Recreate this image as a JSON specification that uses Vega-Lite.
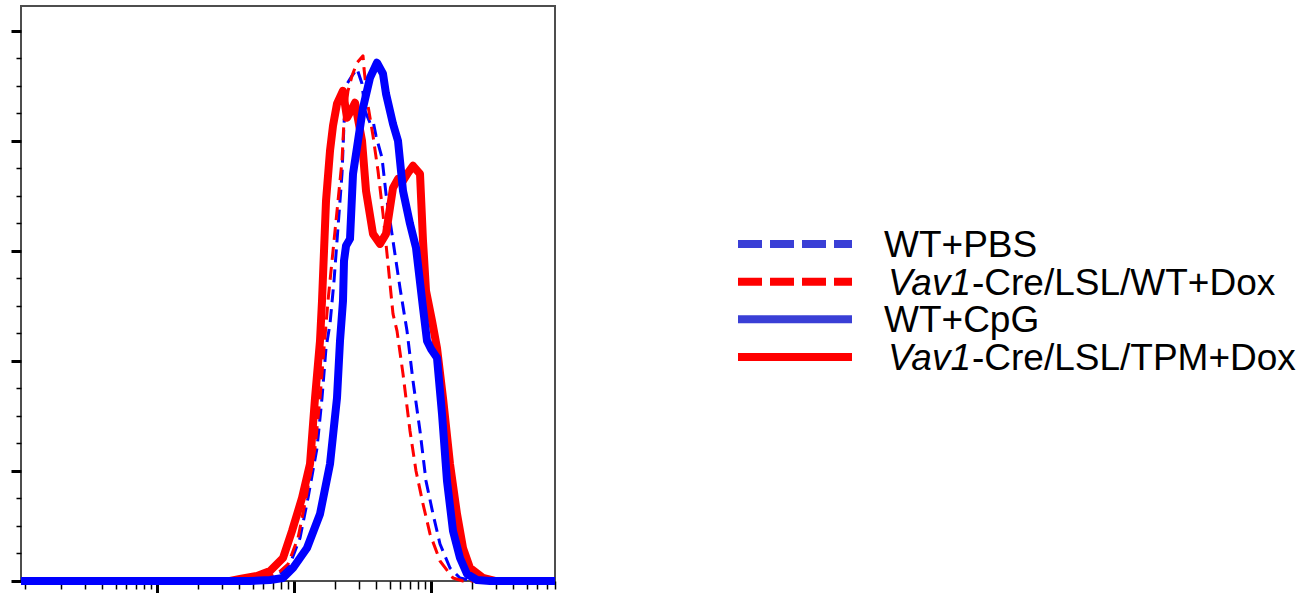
{
  "$schema": "https://vega.github.io/schema/vega-lite/v6.json",
  "padding": {"left": 8, "top": 5, "right": 5, "bottom": 0},
  "background": "white",
  "config": {
    "axis": {"labels": false, "domain": false, "grid": false, "title": null, "tickColor": "black"},
    "text": {"font": "Liberation Sans"}
  },
  "datasets": {
    "curves": [
      {"series": "WT+PBS", "x": 10.2, "y": 0}, {"series": "WT+PBS", "x": 404.6, "y": 0}, {"series": "WT+PBS", "x": 595.6, "y": 0.36}, {"series": "WT+PBS", "x": 792.8, "y": 1.27}, {"series": "WT+PBS", "x": 937.8, "y": 3.09}, {"series": "WT+PBS", "x": 1109.5, "y": 7.82}, {"series": "WT+PBS", "x": 1269.3, "y": 15.09}, {"series": "WT+PBS", "x": 1476.6, "y": 24.18}, {"series": "WT+PBS", "x": 1605.9, "y": 33.27}, {"series": "WT+PBS", "x": 1717.7, "y": 42.36}, {"series": "WT+PBS", "x": 1837, "y": 46.73}, {"series": "WT+PBS", "x": 1965, "y": 54.55}, {"series": "WT+PBS", "x": 2066, "y": 61.82}, {"series": "WT+PBS", "x": 2247, "y": 74.0}, {"series": "WT+PBS", "x": 2324, "y": 83.09}, {"series": "WT+PBS", "x": 2444, "y": 90.36}, {"series": "WT+PBS", "x": 2659, "y": 91.82}, {"series": "WT+PBS", "x": 2892, "y": 93.09}, {"series": "WT+PBS", "x": 3146, "y": 90.36}, {"series": "WT+PBS", "x": 3309, "y": 85.45}, {"series": "WT+PBS", "x": 3597, "y": 83.27}, {"series": "WT+PBS", "x": 3783, "y": 83.64}, {"series": "WT+PBS", "x": 3979, "y": 80.91}, {"series": "WT+PBS", "x": 4402, "y": 76.91}, {"series": "WT+PBS", "x": 4708, "y": 70.36}, {"series": "WT+PBS", "x": 5295, "y": 61.82}, {"series": "WT+PBS", "x": 5957, "y": 53.27}, {"series": "WT+PBS", "x": 6701, "y": 45.45}, {"series": "WT+PBS", "x": 7411, "y": 36.36}, {"series": "WT+PBS", "x": 8337, "y": 27.27}, {"series": "WT+PBS", "x": 9222, "y": 18.18}, {"series": "WT+PBS", "x": 10373, "y": 12.18}, {"series": "WT+PBS", "x": 11668, "y": 6.73}, {"series": "WT+PBS", "x": 13804, "y": 2.36}, {"series": "WT+PBS", "x": 16330, "y": 0.55}, {"series": "WT+PBS", "x": 19320, "y": 0.18}, {"series": "WT+PBS", "x": 22857, "y": 0}, {"series": "WT+PBS", "x": 80600, "y": 0},

      {"series": "WT+Dox", "x": 10.2, "y": 0}, {"series": "WT+Dox", "x": 372.2, "y": 0}, {"series": "WT+Dox", "x": 547.6, "y": 0.36}, {"series": "WT+Dox", "x": 753.8, "y": 1.27}, {"series": "WT+Dox", "x": 907.0, "y": 3.09}, {"series": "WT+Dox", "x": 1072.8, "y": 7.82}, {"series": "WT+Dox", "x": 1227.3, "y": 15.09}, {"series": "WT+Dox", "x": 1427.7, "y": 24.18}, {"series": "WT+Dox", "x": 1552.8, "y": 33.27}, {"series": "WT+Dox", "x": 1660.9, "y": 42.36}, {"series": "WT+Dox", "x": 1776.4, "y": 50.91}, {"series": "WT+Dox", "x": 1932, "y": 60.0}, {"series": "WT+Dox", "x": 2102, "y": 69.09}, {"series": "WT+Dox", "x": 2247, "y": 76.36}, {"series": "WT+Dox", "x": 2324, "y": 83.64}, {"series": "WT+Dox", "x": 2486, "y": 89.09}, {"series": "WT+Dox", "x": 2659, "y": 91.82}, {"series": "WT+Dox", "x": 2892, "y": 94.18}, {"series": "WT+Dox", "x": 3199, "y": 95.45}, {"series": "WT+Dox", "x": 3254, "y": 93.09}, {"series": "WT+Dox", "x": 3480, "y": 86.36}, {"series": "WT+Dox", "x": 3783, "y": 80.91}, {"series": "WT+Dox", "x": 4115, "y": 74.55}, {"series": "WT+Dox", "x": 4476, "y": 66.73}, {"series": "WT+Dox", "x": 4788, "y": 59.45}, {"series": "WT+Dox", "x": 5295, "y": 48.55}, {"series": "WT+Dox", "x": 5664, "y": 45.45}, {"series": "WT+Dox", "x": 6265, "y": 37.64}, {"series": "WT+Dox", "x": 7047, "y": 27.27}, {"series": "WT+Dox", "x": 7795, "y": 20.0}, {"series": "WT+Dox", "x": 8768, "y": 14.0}, {"series": "WT+Dox", "x": 9863, "y": 8.55}, {"series": "WT+Dox", "x": 11668, "y": 3.64}, {"series": "WT+Dox", "x": 14518, "y": 0.55}, {"series": "WT+Dox", "x": 17174, "y": 0}, {"series": "WT+Dox", "x": 80600, "y": 0},

      {"series": "TPM+Dox", "x": 10.2, "y": 0}, {"series": "TPM+Dox", "x": 342.2, "y": 0}, {"series": "TPM+Dox", "x": 404.6, "y": 0.36}, {"series": "TPM+Dox", "x": 538.5, "y": 0.91}, {"series": "TPM+Dox", "x": 670.1, "y": 1.82}, {"series": "TPM+Dox", "x": 833.8, "y": 4.18}, {"series": "TPM+Dox", "x": 969.9, "y": 9.09}, {"series": "TPM+Dox", "x": 1147.5, "y": 15.09}, {"series": "TPM+Dox", "x": 1312.6, "y": 21.27}, {"series": "TPM+Dox", "x": 1427.7, "y": 33.27}, {"series": "TPM+Dox", "x": 1552.8, "y": 43.64}, {"series": "TPM+Dox", "x": 1605.9, "y": 50.91}, {"series": "TPM+Dox", "x": 1660.9, "y": 60.0}, {"series": "TPM+Dox", "x": 1717.7, "y": 69.09}, {"series": "TPM+Dox", "x": 1837, "y": 78.18}, {"series": "TPM+Dox", "x": 1932, "y": 82.73}, {"series": "TPM+Dox", "x": 2066, "y": 86.73}, {"series": "TPM+Dox", "x": 2285, "y": 89.09}, {"series": "TPM+Dox", "x": 2444, "y": 84.18}, {"series": "TPM+Dox", "x": 2659, "y": 85.82}, {"series": "TPM+Dox", "x": 2797, "y": 86.91}, {"series": "TPM+Dox", "x": 3146, "y": 80.0}, {"series": "TPM+Dox", "x": 3365, "y": 70.91}, {"series": "TPM+Dox", "x": 3783, "y": 63.09}, {"series": "TPM+Dox", "x": 4256, "y": 61.27}, {"series": "TPM+Dox", "x": 4708, "y": 63.09}, {"series": "TPM+Dox", "x": 5295, "y": 71.45}, {"series": "TPM+Dox", "x": 5760, "y": 73.09}, {"series": "TPM+Dox", "x": 6265, "y": 72.73}, {"series": "TPM+Dox", "x": 6815, "y": 74.18}, {"series": "TPM+Dox", "x": 7411, "y": 75.45}, {"series": "TPM+Dox", "x": 8337, "y": 74.0}, {"series": "TPM+Dox", "x": 8768, "y": 61.82}, {"series": "TPM+Dox", "x": 9222, "y": 52.73}, {"series": "TPM+Dox", "x": 10200, "y": 47.27}, {"series": "TPM+Dox", "x": 11095, "y": 42.36}, {"series": "TPM+Dox", "x": 12271, "y": 33.27}, {"series": "TPM+Dox", "x": 13804, "y": 21.27}, {"series": "TPM+Dox", "x": 15528, "y": 12.18}, {"series": "TPM+Dox", "x": 17174, "y": 6.0}, {"series": "TPM+Dox", "x": 19320, "y": 2.36}, {"series": "TPM+Dox", "x": 24039, "y": 0.55}, {"series": "TPM+Dox", "x": 29412, "y": 0}, {"series": "TPM+Dox", "x": 80600, "y": 0},

      {"series": "WT+CpG", "x": 10.2, "y": 0}, {"series": "WT+CpG", "x": 478.7, "y": 0}, {"series": "WT+CpG", "x": 670.1, "y": 0.18}, {"series": "WT+CpG", "x": 833.8, "y": 0.55}, {"series": "WT+CpG", "x": 986.3, "y": 2.36}, {"series": "WT+CpG", "x": 1248.1, "y": 6.0}, {"series": "WT+CpG", "x": 1552.8, "y": 12.18}, {"series": "WT+CpG", "x": 1837, "y": 21.27}, {"series": "WT+CpG", "x": 2066, "y": 33.27}, {"series": "WT+CpG", "x": 2173, "y": 43.64}, {"series": "WT+CpG", "x": 2285, "y": 50.91}, {"series": "WT+CpG", "x": 2324, "y": 58.18}, {"series": "WT+CpG", "x": 2404, "y": 60.91}, {"series": "WT+CpG", "x": 2571, "y": 62.18}, {"series": "WT+CpG", "x": 2704, "y": 74.0}, {"series": "WT+CpG", "x": 2941, "y": 80.0}, {"series": "WT+CpG", "x": 3199, "y": 86.0}, {"series": "WT+CpG", "x": 3597, "y": 91.45}, {"series": "WT+CpG", "x": 4046, "y": 94.18}, {"series": "WT+CpG", "x": 4476, "y": 92.18}, {"series": "WT+CpG", "x": 4708, "y": 88.55}, {"series": "WT+CpG", "x": 5295, "y": 83.09}, {"series": "WT+CpG", "x": 5760, "y": 80.0}, {"series": "WT+CpG", "x": 6265, "y": 70.91}, {"series": "WT+CpG", "x": 7047, "y": 64.91}, {"series": "WT+CpG", "x": 7795, "y": 60.55}, {"series": "WT+CpG", "x": 8768, "y": 49.64}, {"series": "WT+CpG", "x": 9378, "y": 43.64}, {"series": "WT+CpG", "x": 10030, "y": 42.18}, {"series": "WT+CpG", "x": 11095, "y": 40.55}, {"series": "WT+CpG", "x": 12067, "y": 30.36}, {"series": "WT+CpG", "x": 13125, "y": 18.18}, {"series": "WT+CpG", "x": 14518, "y": 9.09}, {"series": "WT+CpG", "x": 16330, "y": 4.18}, {"series": "WT+CpG", "x": 18370, "y": 1.27}, {"series": "WT+CpG", "x": 21733, "y": 0.18}, {"series": "WT+CpG", "x": 27040, "y": 0}, {"series": "WT+CpG", "x": 80600, "y": 0}
    ],
    "legend": [
      {"series": "WT+PBS", "italic": "", "rest": "WT+PBS"},
      {"series": "WT+Dox", "italic": "Vav1", "rest": "-Cre/LSL/WT+Dox"},
      {"series": "WT+CpG", "italic": "", "rest": "WT+CpG"},
      {"series": "TPM+Dox", "italic": "Vav1", "rest": "-Cre/LSL/TPM+Dox"}
    ]
  },
  "hconcat": [
    {
      "width": 534,
      "height": 575,
      "view": {"stroke": "#4d4d4d", "strokeWidth": 2},
      "data": {"name": "curves"},
      "encoding": {
        "x": {
          "field": "x", "type": "quantitative",
          "scale": {"type": "log", "domain": [10.2, 80600], "nice": false},
          "axis": {
            "values": [11, 20, 30, 40, 50, 60, 70, 80, 90, 100, 200, 300, 400, 500, 600, 700, 800, 900, 1000, 2000, 3000, 4000, 5000, 6000, 7000, 8000, 9000, 10000, 20000, 30000, 40000, 50000, 60000, 70000, 80000],
            "tickSize": {"condition": {"test": "datum.value == 100 || datum.value == 1000 || datum.value == 10000", "value": 13}, "value": 8},
            "tickWidth": {"condition": {"test": "datum.value == 100 || datum.value == 1000 || datum.value == 10000", "value": 3}, "value": 1.5}
          }
        },
        "y": {
          "field": "y", "type": "quantitative",
          "scale": {"domain": [0, 104.5], "nice": false, "zero": true},
          "axis": {
            "values": [0, 5, 10, 15, 20, 25, 30, 35, 40, 45, 50, 55, 60, 65, 70, 75, 80, 85, 90, 95, 100],
            "tickSize": {"condition": {"test": "datum.value % 20 === 0", "value": 10}, "value": 5},
            "tickWidth": {"condition": {"test": "datum.value % 20 === 0", "value": 3}, "value": 1.5}
          }
        }
      },
      "layer": [
        {
          "transform": [{"filter": "datum.series === 'WT+PBS'"}],
          "mark": {"type": "line", "color": "#0000ff", "strokeWidth": 3, "strokeDash": [13, 7], "strokeJoin": "round"}
        },
        {
          "transform": [{"filter": "datum.series === 'WT+Dox'"}],
          "mark": {"type": "line", "color": "#ff0000", "strokeWidth": 3, "strokeDash": [13, 7], "strokeJoin": "round"}
        },
        {
          "transform": [{"filter": "datum.series === 'TPM+Dox'"}],
          "mark": {"type": "line", "color": "#ff0000", "strokeWidth": 8, "strokeJoin": "round"}
        },
        {
          "transform": [{"filter": "datum.series === 'WT+CpG'"}],
          "mark": {"type": "line", "color": "#0000ff", "strokeWidth": 8, "strokeJoin": "round"}
        }
      ]
    },
    {
      "width": 570,
      "height": 575,
      "view": {"stroke": null},
      "data": {"name": "legend"},
      "encoding": {
        "y": {
          "field": "series", "type": "nominal",
          "scale": {"type": "point", "domain": ["WT+PBS", "WT+Dox", "WT+CpG", "TPM+Dox"], "range": [238, 351], "padding": 0},
          "axis": null
        }
      },
      "layer": [
        {
          "mark": {"type": "rule", "strokeWidth": 8},
          "encoding": {
            "x": {"datum": 3, "type": "quantitative", "scale": {"domain": [0, 570], "nice": false, "zero": false}, "axis": null},
            "x2": {"datum": 117},
            "color": {"field": "series", "type": "nominal", "scale": {"domain": ["WT+PBS", "WT+Dox", "WT+CpG", "TPM+Dox"], "range": ["#3a3fd6", "#ff0000", "#3a3fd6", "#ff0000"]}, "legend": null},
            "strokeDash": {"field": "series", "type": "nominal", "scale": {"domain": ["WT+PBS", "WT+Dox", "WT+CpG", "TPM+Dox"], "range": [[24, 8], [24, 8], [1, 0], [1, 0]]}, "legend": null}
          }
        },
        {
          "transform": [{"filter": "datum.italic != ''"}],
          "mark": {"type": "text", "font": "Liberation Sans", "fontSize": 37, "fontStyle": "italic", "align": "left", "baseline": "middle", "color": "black", "dy": 2},
          "encoding": {
            "x": {"datum": 153, "type": "quantitative", "scale": {"domain": [0, 570], "nice": false, "zero": false}},
            "text": {"field": "italic"}
          }
        },
        {
          "transform": [{"filter": "datum.italic != ''"}],
          "mark": {"type": "text", "font": "Liberation Sans", "fontSize": 37, "align": "left", "baseline": "middle", "color": "black", "dx": 84, "dy": 2},
          "encoding": {
            "x": {"datum": 153, "type": "quantitative", "scale": {"domain": [0, 570], "nice": false, "zero": false}},
            "text": {"field": "rest"}
          }
        },
        {
          "transform": [{"filter": "datum.italic == ''"}],
          "mark": {"type": "text", "font": "Liberation Sans", "fontSize": 37, "align": "left", "baseline": "middle", "color": "black", "dy": 2},
          "encoding": {
            "x": {"datum": 149, "type": "quantitative", "scale": {"domain": [0, 570], "nice": false, "zero": false}},
            "text": {"field": "rest"}
          }
        }
      ]
    }
  ],
  "spacing": 174
}
